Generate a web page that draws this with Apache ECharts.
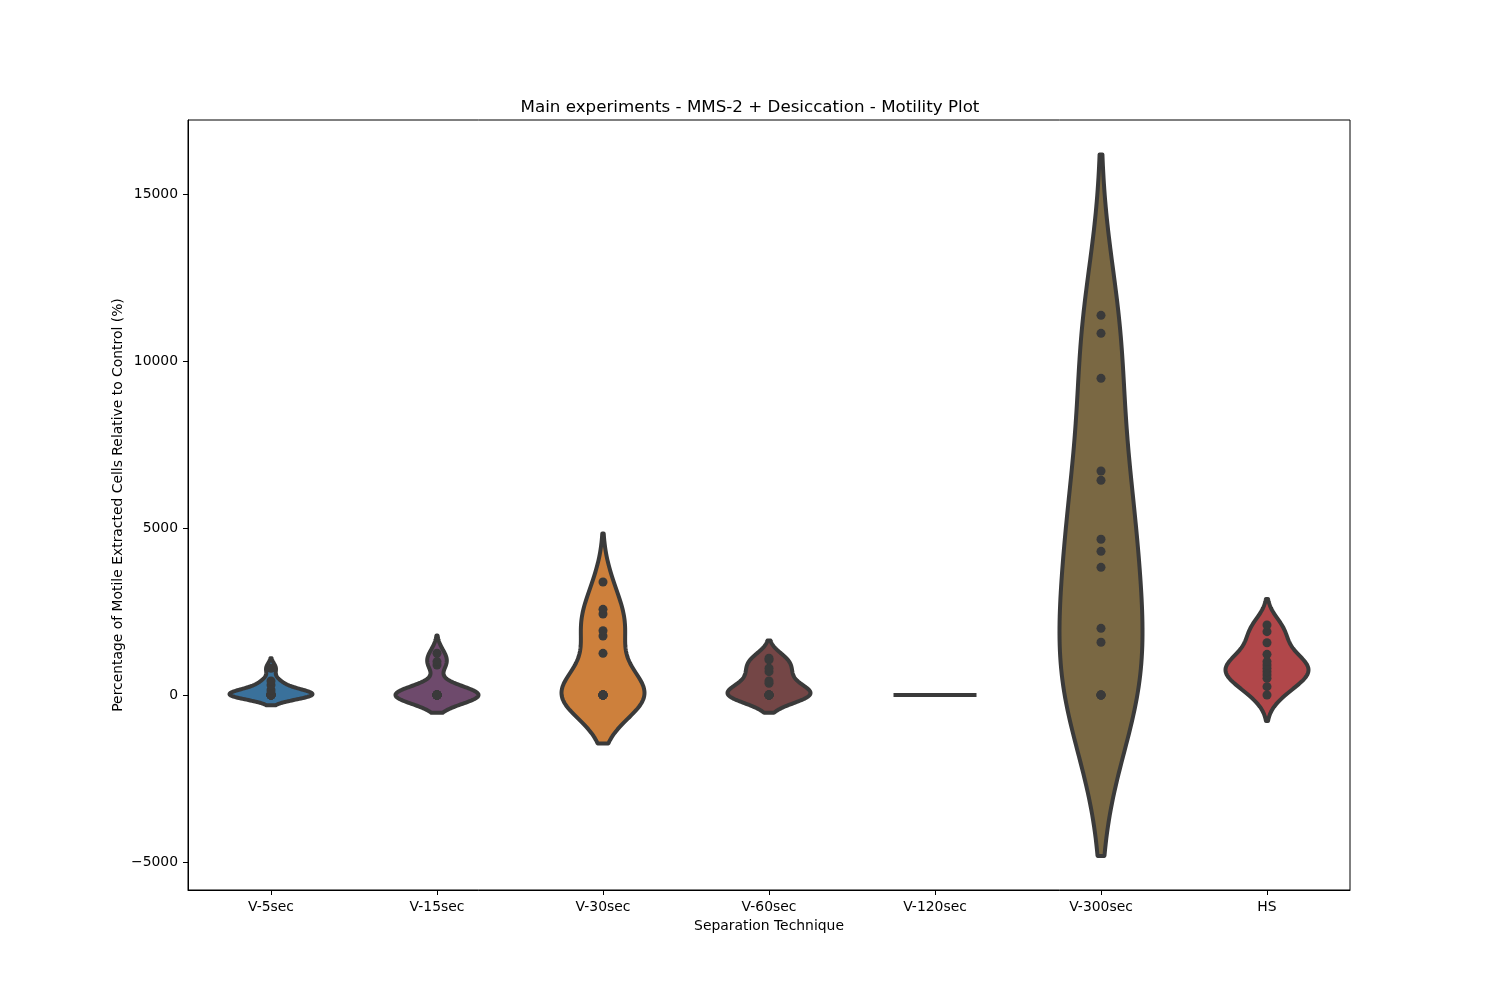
<!DOCTYPE html>
<html>
<head>
<meta charset="utf-8">
<script src="https://cdn.jsdelivr.net/npm/echarts@6/dist/echarts.min.js"></script>
<style>
html, body { margin: 0; background: #fff; }
#main { width: 1500px; height: 1000px; }
</style>
</head>
<body>
<div id="main"></div>
<script>
var categories = ['V-5sec', 'V-15sec', 'V-30sec', 'V-60sec', 'V-120sec', 'V-300sec', 'HS'];
var v5sec = [0, 0, 0, 0, 0, 0, 0, 60, 150, 300, 420, 800];
var v15sec = [0, 0, 0, 0, 0, 0, 0, 0, 0, 0, 0, 900, 1000, 1250];
var v30sec = [0, 0, 0, 0, 0, 0, 0, 0, 1248, 1766, 1925, 2425, 2565, 3383];
var v60sec = [0, 0, 0, 0, 0, 0, 350, 420, 700, 800, 1050, 1100];
var v120sec = [0, 0, 0, 0, 0, 0, 0, 0, 0, 0, 0, 0];
var v300sec = [0, 0, 0, 0, 1578, 1997, 3823, 4302, 4662, 6428, 6707, 9482, 10829, 11368];
var hs = [0, 250, 500, 600, 700, 800, 900, 1000, 1218, 1566, 1896, 2096];
var yTicks = [-5000, 0, 5000, 10000, 15000];

var groups = [v5sec, v15sec, v30sec, v60sec, v120sec, v300sec, hs];
var colors = ['#3a719b', '#6e4a6c', '#cd803c', '#744646', '#555555', '#7a6843', '#b1474a'];
var gray = '#3a3a3a';

// gaussian kde, scott bandwidth, cut = 2 (like seaborn)
function kde(vals) {
    var n = vals.length;
    var mean = vals.reduce(function (a, b) { return a + b; }, 0) / n;
    var v = vals.reduce(function (a, b) { return a + (b - mean) * (b - mean); }, 0) / (n - 1);
    var bw = Math.sqrt(v) * Math.pow(n, -0.2);
    if (!bw) return null;
    var lo = Math.min.apply(null, vals) - 2 * bw;
    var hi = Math.max.apply(null, vals) + 2 * bw;
    var pts = [];
    var maxD = 0;
    for (var i = 0; i <= 120; i++) {
        var y = lo + (hi - lo) * i / 120;
        var d = 0;
        vals.forEach(function (x) {
            var z = (y - x) / bw;
            d += Math.exp(-0.5 * z * z);
        });
        pts.push({ y: y, d: d });
        if (d > maxD) maxD = d;
    }
    pts.forEach(function (p) { p.d = p.d / maxD; });
    return pts;
}

var shapes = groups.map(kde);

var pointData = [];
groups.forEach(function (g, i) {
    if (!shapes[i]) return;
    g.forEach(function (v) { pointData.push([i, v]); });
});

var myChart = echarts.init(document.getElementById('main'));
var font = 'DejaVu Sans';

var option = {
    animation: false,
    title: {
        text: 'Main experiments - MMS-2 + Desiccation - Motility Plot',
        left: 'center',
        top: 94,
        textStyle: { fontFamily: font, fontSize: 16.7, fontWeight: 'normal', color: '#000' }
    },
    grid: {
        left: 188, right: 150, top: 120, bottom: 110,
        show: true, borderColor: '#000', borderWidth: 1
    },
    xAxis: {
        type: 'category',
        data: categories,
        name: 'Separation Technique',
        nameLocation: 'middle',
        nameGap: 29,
        nameMoveOverlap: false,
        nameTextStyle: { fontFamily: font, fontSize: 13.9, color: '#000' },
        axisLine: { onZero: false, lineStyle: { color: '#000', width: 1 } },
        axisTick: { show: true, alignWithLabel: true, length: 5, lineStyle: { color: '#000', width: 1 } },
        axisLabel: { fontFamily: font, fontSize: 13.9, color: '#000', margin: 10 },
        splitLine: { show: false }
    },
    yAxis: {
        type: 'value',
        min: -5838,
        max: 17216,
        name: 'Percentage of Motile Extracted Cells Relative to Control (%)',
        nameLocation: 'middle',
        nameGap: 63,
        nameMoveOverlap: false,
        nameTextStyle: { fontFamily: font, fontSize: 13.9, color: '#000' },
        axisLine: { show: true, onZero: false, lineStyle: { color: '#000', width: 1 } },
        axisTick: { show: true, length: 5, customValues: yTicks, lineStyle: { color: '#000', width: 1 } },
        axisLabel: {
            fontFamily: font, fontSize: 13.9, color: '#000', margin: 10, customValues: yTicks,
            formatter: function (v) { return v < 0 ? '\u2212' + Math.abs(v) : String(v); }
        },
        splitLine: { show: false }
    },
    series: [
        {
            type: 'custom',
            data: categories.map(function (c, i) { return [i, 0]; }),
            encode: { x: 0, y: 1 },
            z: 2,
            renderItem: function (params, api) {
                var i = params.dataIndex;
                var half = api.size([1, 0])[0] * 0.25;
                var shape = shapes[i];
                if (!shape) {
                    var c = api.coord([i, groups[i][0]]);
                    return {
                        type: 'line',
                        shape: { x1: c[0] - half, y1: c[1], x2: c[0] + half, y2: c[1] },
                        style: { stroke: gray, lineWidth: 4 }
                    };
                }
                var right = [];
                var left = [];
                shape.forEach(function (p) {
                    var pt = api.coord([i, p.y]);
                    right.push([pt[0] + p.d * half, pt[1]]);
                    left.unshift([pt[0] - p.d * half, pt[1]]);
                });
                return {
                    type: 'polygon',
                    shape: { points: right.concat(left) },
                    style: { fill: colors[i], stroke: gray, lineWidth: 4, lineJoin: 'round' }
                };
            }
        },
        {
            type: 'scatter',
            data: pointData,
            symbolSize: 9,
            z: 3,
            itemStyle: { color: gray, opacity: 1 }
        }
    ]
};
myChart.setOption(option);
</script>
</body>
</html>
